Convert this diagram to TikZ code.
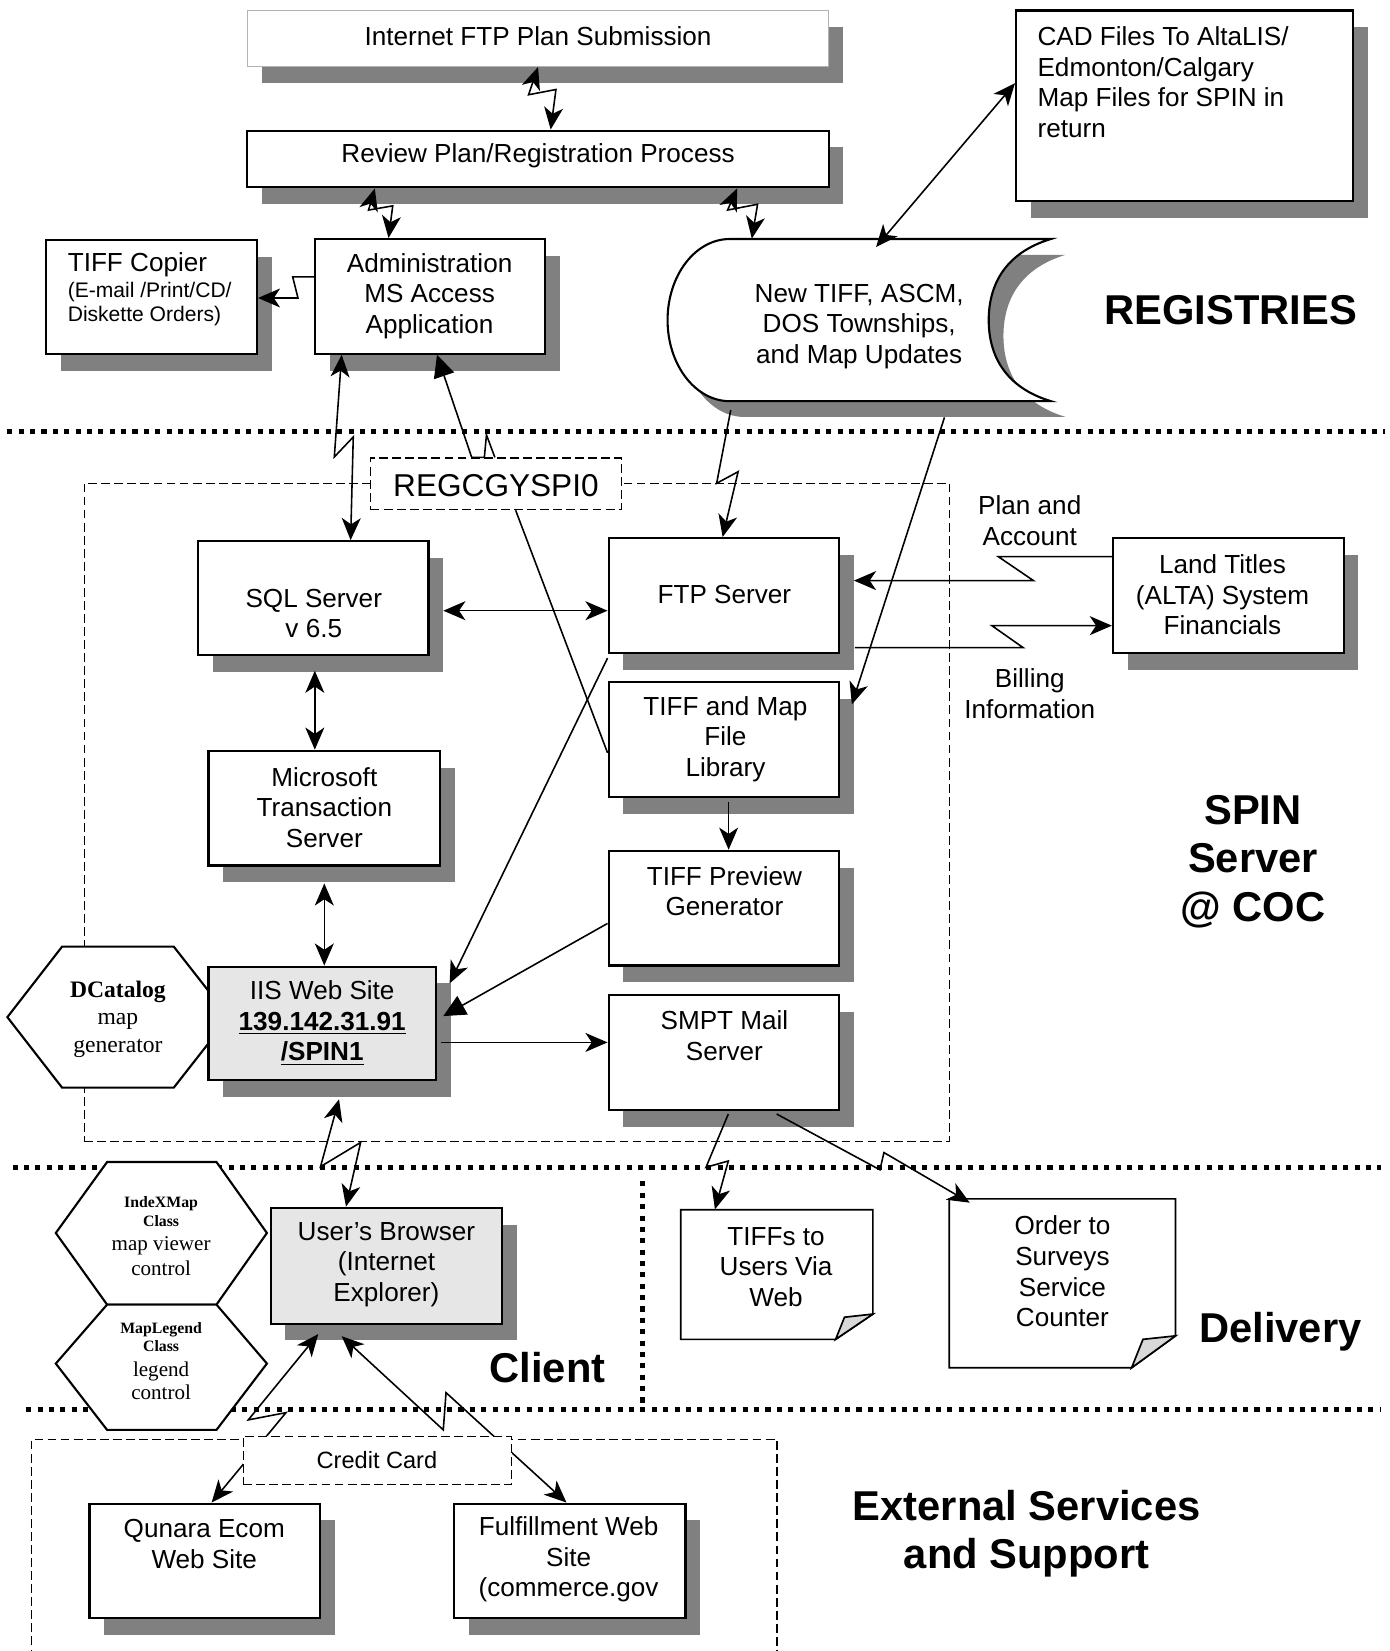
\documentclass[tikz,border=0pt]{standalone}
\usepackage{fontspec}
\setmainfont{Liberation Sans}
\newfontfamily\tms{Liberation Serif}
\usetikzlibrary{arrows.meta,fit,shadows,calc}
\definecolor{shgray}{HTML}{808080}
\definecolor{boxgray}{HTML}{E6E6E6}
\begin{document}
\begin{tikzpicture}[x=0.5pt,y=-0.5pt,
  box/.style={draw=black, line width=1pt, fill=white, inner sep=0pt},
  sbox/.style={box, general shadow={fill=shgray, shadow xshift=7pt, shadow yshift=-8pt}},
  region/.style={inner sep=0pt},
  note/.style={draw=black, line width=0.8pt, fill=white},
  txt/.style={inner sep=0pt, align=center, font=\fontsize{12.4}{14.5}\selectfont},
  big/.style={inner sep=0pt, align=center, font=\fontsize{19.8}{23}\selectfont\bfseries},
  conn/.style={line width=0.75pt},
  hd/.style={arrows={-Stealth[length=10.5pt,width=9pt,inset=3pt]}},
  dbl/.style={arrows={Stealth[length=10.5pt,width=9pt,inset=3pt]-Stealth[length=10.5pt,width=9pt,inset=3pt]}},
  tri/.style={arrows={-Triangle[length=10.5pt,width=10pt]}},
  dots/.style={line width=2.4pt, dash pattern=on 2.4pt off 3pt},
  dsh/.style={line width=0.6pt, dash pattern=on 4.2pt off 2pt},
]
\useasboundingbox (0,0) rectangle (1320,1568);
\fill[white] (0,0) rectangle (1320,1568);

% section separators
\draw[dots] (7,410) -- (1315,410);
\draw[dots] (12,1109) -- (1312,1109);
\draw[dots] (25,1339) -- (1312,1339);
\draw[dots] (610,1122) -- (610,1339);

% dashed regions
\node[dsh, draw, region, fit={(80,459)(902,1084)}] (spin) {};
\draw[dsh] (30,1575) -- (30,1367) -- (738,1367) -- (738,1575);
\node[dsh, draw, fill=white, region, fit={(352,435)(590,484)}] (regc) {};

% stored data shape
\fill[shgray, shift={(14,15)}] (693,227) -- (998,227) .. controls (955,240) and (939,270) .. (939,304) .. controls (939,338) and (955,368) .. (998,381) -- (693,381) .. controls (660.4,381) and (634,346.5) .. (634,304) .. controls (634,261.5) and (660.4,227) .. (693,227) -- cycle;
\draw[box] (693,227) -- (998,227) .. controls (955,240) and (939,270) .. (939,304) .. controls (939,338) and (955,368) .. (998,381) -- (693,381) .. controls (660.4,381) and (634,346.5) .. (634,304) .. controls (634,261.5) and (660.4,227) .. (693,227) -- cycle;
\node[region, fit={(634,227)(998,381)}] (tape) {};

% hexagons
\draw[box] (7,966) -- (59,899) -- (165,899) -- (217.5,966) -- (165,1033) -- (59,1033) -- cycle;
\node[region, fit={(7,899)(217.5,1033)}] (dcat) {};
\draw[box] (53,1171) -- (101.7,1103.6) -- (205.6,1103.6) -- (253.5,1171) -- (205.6,1239) -- (101.7,1239) -- cycle;
\node[region, fit={(53,1103.6)(253.5,1239)}] (idx) {};
\draw[box] (53,1295) -- (101.7,1239) -- (205.6,1239) -- (253.5,1295) -- (205.6,1358) -- (101.7,1358) -- cycle;
\node[region, fit={(53,1239)(253.5,1358)}] (mleg) {};

% boxes
\node[sbox, draw=gray!60, line width=0.6pt, fit={(235,10)(787,63)}] (ftpsub) {};
\node[sbox, fit={(235,124)(787,178)}] (review) {};
\node[sbox, fit={(44,228)(244,336)}] (copier) {};
\node[sbox, fit={(299,227)(518,336)}] (admin) {};
\node[sbox, fit={(965,10)(1285,191)}] (cad) {};
\node[sbox, fit={(188,514)(407,622)}] (sql) {};
\node[sbox, fit={(578,511)(797,620)}] (ftp) {};
\node[sbox, fit={(1057,511)(1276,620)}] (land) {};
\node[sbox, fit={(578,648)(797,757)}] (lib) {};
\node[sbox, fit={(198,713)(418,822)}] (mts) {};
\node[sbox, fit={(578,808)(797,917)}] (prev) {};
\node[sbox, fill=boxgray, fit={(198,918)(414,1026)}] (iis) {};
\node[sbox, fit={(578,945)(797,1054)}] (smpt) {};
\node[sbox, fill=boxgray, fit={(257,1147)(477,1257)}] (browser) {};
\node[sbox, fit={(85,1428)(304,1537)}] (qunara) {};
\node[sbox, fit={(431,1428)(651,1537)}] (fulfil) {};

% notes
\draw[note] (646.5,1149) -- (829,1149) -- (829,1248) -- (793.6,1272) -- (646.5,1272) -- cycle;
\draw[note, fill=gray!30] (793.6,1272) -- (802,1251) -- (829,1248) -- cycle;
\node[region, fit={(646.5,1149)(829,1272)}] (tiffs) {};
\draw[note] (901.5,1138.6) -- (1116.4,1138.6) -- (1116.4,1268.7) -- (1074.7,1299) -- (901.5,1299) -- cycle;
\draw[note, fill=gray!30] (1074.7,1299) -- (1085.5,1272) -- (1116.4,1268.7) -- cycle;
\node[region, fit={(901.5,1138.6)(1116.4,1299)}] (order) {};

% connectors
\draw[conn,dbl] (511,0 |- ftpsub.south) -- (502,90) -- (528,85) -- (523,0 |- review.north);
\draw[conn,dbl] (356,0 |- review.south) -- (350,199.5) -- (373,195.5) -- (369,0 |- admin.north);
\draw[conn,dbl] (700,0 |- review.south) -- (691,199.5) -- (719.5,194) -- (714,0 |- tape.north);
\draw[conn,dbl] (cad.west |- 0,79) -- ($(832,0 |- tape.north)+(0,8)$);
\draw[conn,hd] (admin.west |- 0,263) -- (278,263) -- (283,283) -- (copier.east |- 0,283);
\draw[conn,dbl] (324.5,0 |- admin.south) -- (317.5,434) -- (335.5,415) -- (333,0 |- sql.north);
\draw[conn,tri] (470,0 |- regc.north) -- (462,413) -- (460,0 |- regc.north) -- (448,0 |- regc.north) -- (415,0 |- admin.south);
\draw[conn] (489.7,0 |- regc.south) -- (lib.west |- 0,715);
\draw[conn,dbl] ($(sql.east |- 0,580)+(13,0)$) -- (ftp.west |- 0,580);
\draw[conn,dbl] ($(299,0 |- sql.south)+(0,14)$) -- (299,0 |- mts.north);
\draw[conn,dbl] ($(308,0 |- mts.south)+(0,16)$) -- (308,0 |- iis.north);
\draw[conn,hd] (ftp.west |- 0,625) -- ($(iis.east |- 0,934)+(12,0)$);
\draw[conn,tri] (prev.west |- 0,877) -- ($(iis.east |- 0,965)+(6,0)$);
\draw[conn,hd] ($(iis.east |- 0,990)+(4,0)$) -- (smpt.west |- 0,990);
\draw[conn,hd] ($(692,0 |- lib.south)+(0,4)$) -- (692,0 |- prev.north);
\draw[conn,hd] ($(694,0 |- tape.south)+(0,8)$) -- (680.6,459) -- (701,448) -- (686.3,0 |- ftp.north);
\draw[conn,hd] ($(897,0 |- tape.south)+(0,15)$) -- ($(lib.east |- 0,669)+(11,0)$);
\draw[conn,hd] (land.west |- 0,528.6) -- (948,528.6) -- (981.5,551.4) -- ($(ftp.east |- 0,551.4)+(13,0)$);
\draw[conn,hd] ($(ftp.east |- 0,615)+(14,0)$) -- (971.6,615) -- (942,594.2) -- (land.west |- 0,594.2);
\draw[conn,dbl] ($(322,0 |- iis.south)+(0,17)$) -- (304.4,1108) -- (342.5,1085) -- (328.6,0 |- browser.north);
\draw[conn,hd] ($(691.7,0 |- smpt.south)+(0,3)$) -- (670.5,1108.6) -- (691.7,1102.6) -- (679,0 |- tiffs.north);
\draw[conn,hd] ($(737.6,0 |- smpt.south)+(0,3)$) -- (835.7,1111) -- (839.5,1094.6) -- ($(921,0 |- order.north)+(0,4)$);
\draw[conn,dbl] ($(302.3,0 |- browser.south)+(0,9)$) -- (235.8,1348.5) -- (271.6,1341.6) -- (201,0 |- qunara.north);
\draw[conn,dbl] ($(324.5,0 |- browser.south)+(0,11)$) -- (421,1358) -- (423.6,1322.6) -- (538,0 |- fulfil.north);

\node[dsh, draw, fill=white, region, fit={(231,1364)(486,1410)}] (credit) {};

% texts
\node[txt] (t1) at (511,34) {Internet FTP Plan Submission};
\node[txt] (t2) at (511,148) {Review Plan/Registration Process};
\node[txt, anchor=west] (t3) at (64,251) {TIFF Copier};
\node[txt, anchor=west, align=left, font=\fontsize{10}{11.5}\selectfont] (t4) at (64,288.5) {(E-mail /Print/CD/\\Diskette Orders)};
\node[txt] (t5) at (408,281) {Administration\\MS Access\\Application};
\node[txt, anchor=west, align=left] (t6) at (985,78) {CAD Files To AltaLIS/\\Edmonton/Calgary\\Map Files for SPIN in\\return};
\node[txt] (t7) at (816,310) {New TIFF, ASCM,\\DOS Townships,\\and Map Updates};
\node[big] (t8) at (1169,295) {REGISTRIES};
\node[txt, font=\fontsize{15}{18}\selectfont] (t9) at (471,461) {REGCGYSPI0};
\node[txt] (t10) at (298,582.5) {SQL Server\\v 6.5};
\node[txt] (t11) at (688,565) {FTP Server};
\node[txt] (t12) at (978,494.5) {Plan and\\Account};
\node[txt] (t13) at (978,659) {Billing\\Information};
\node[txt] (t14) at (1161,565) {Land Titles\\(ALTA) System\\Financials};
\node[txt] (t15) at (689,702) {TIFF and Map\\File\\Library};
\node[txt] (t16) at (308,767) {Microsoft\\Transaction\\Server};
\node[txt] (t17) at (688,846.5) {TIFF Preview\\Generator};
\node[txt] (t18) at (306,971.5) {IIS Web Site\\\textbf{\underline{139.142.31.91}}\\\textbf{\underline{/SPIN1}}};
\node[txt] (t19) at (688,983.5) {SMPT Mail\\Server};
\node[big] (t20) at (1190,818) {SPIN\\Server\\@ COC};
\node[txt, font=\tms\fontsize{11.2}{13}\selectfont] (t21) at (112,968) {\textbf{DCatalog}\\map\\generator};
\node[txt, font=\tms\bfseries\fontsize{7.5}{9}\selectfont] (t22) at (153,1151) {IndeXMap\\Class};
\node[txt, font=\tms\fontsize{10}{12}\selectfont] (t23) at (153,1193) {map viewer\\control};
\node[txt, font=\tms\bfseries\fontsize{7.5}{8.5}\selectfont] (t24) at (153,1269.5) {MapLegend\\Class};
\node[txt, font=\tms\fontsize{10}{11}\selectfont] (t25) at (153,1311) {legend\\control};
\node[txt] (t26) at (367,1201) {User’s Browser\\(Internet\\Explorer)};
\node[big] (t27) at (520,1299) {Client};
\node[txt] (t28) at (737,1203) {TIFFs to\\Users Via\\Web};
\node[txt] (t29) at (1009,1207.5) {Order to\\Surveys\\Service\\Counter};
\node[big] (t30) at (1216,1265) {Delivery};
\node[txt, font=\fontsize{11.2}{13}\selectfont] (t31) at (358,1387) {Credit Card};
\node[big, font=\fontsize{19.8}{22.5}\selectfont\bfseries] (t32) at (975,1456.5) {External Services\\and Support};
\node[txt] (t33) at (194,1466.5) {Qunara Ecom\\Web Site};
\node[txt] (t34) at (540,1481) {Fulfillment Web\\Site\\(commerce.gov};
\end{tikzpicture}
\end{document}
